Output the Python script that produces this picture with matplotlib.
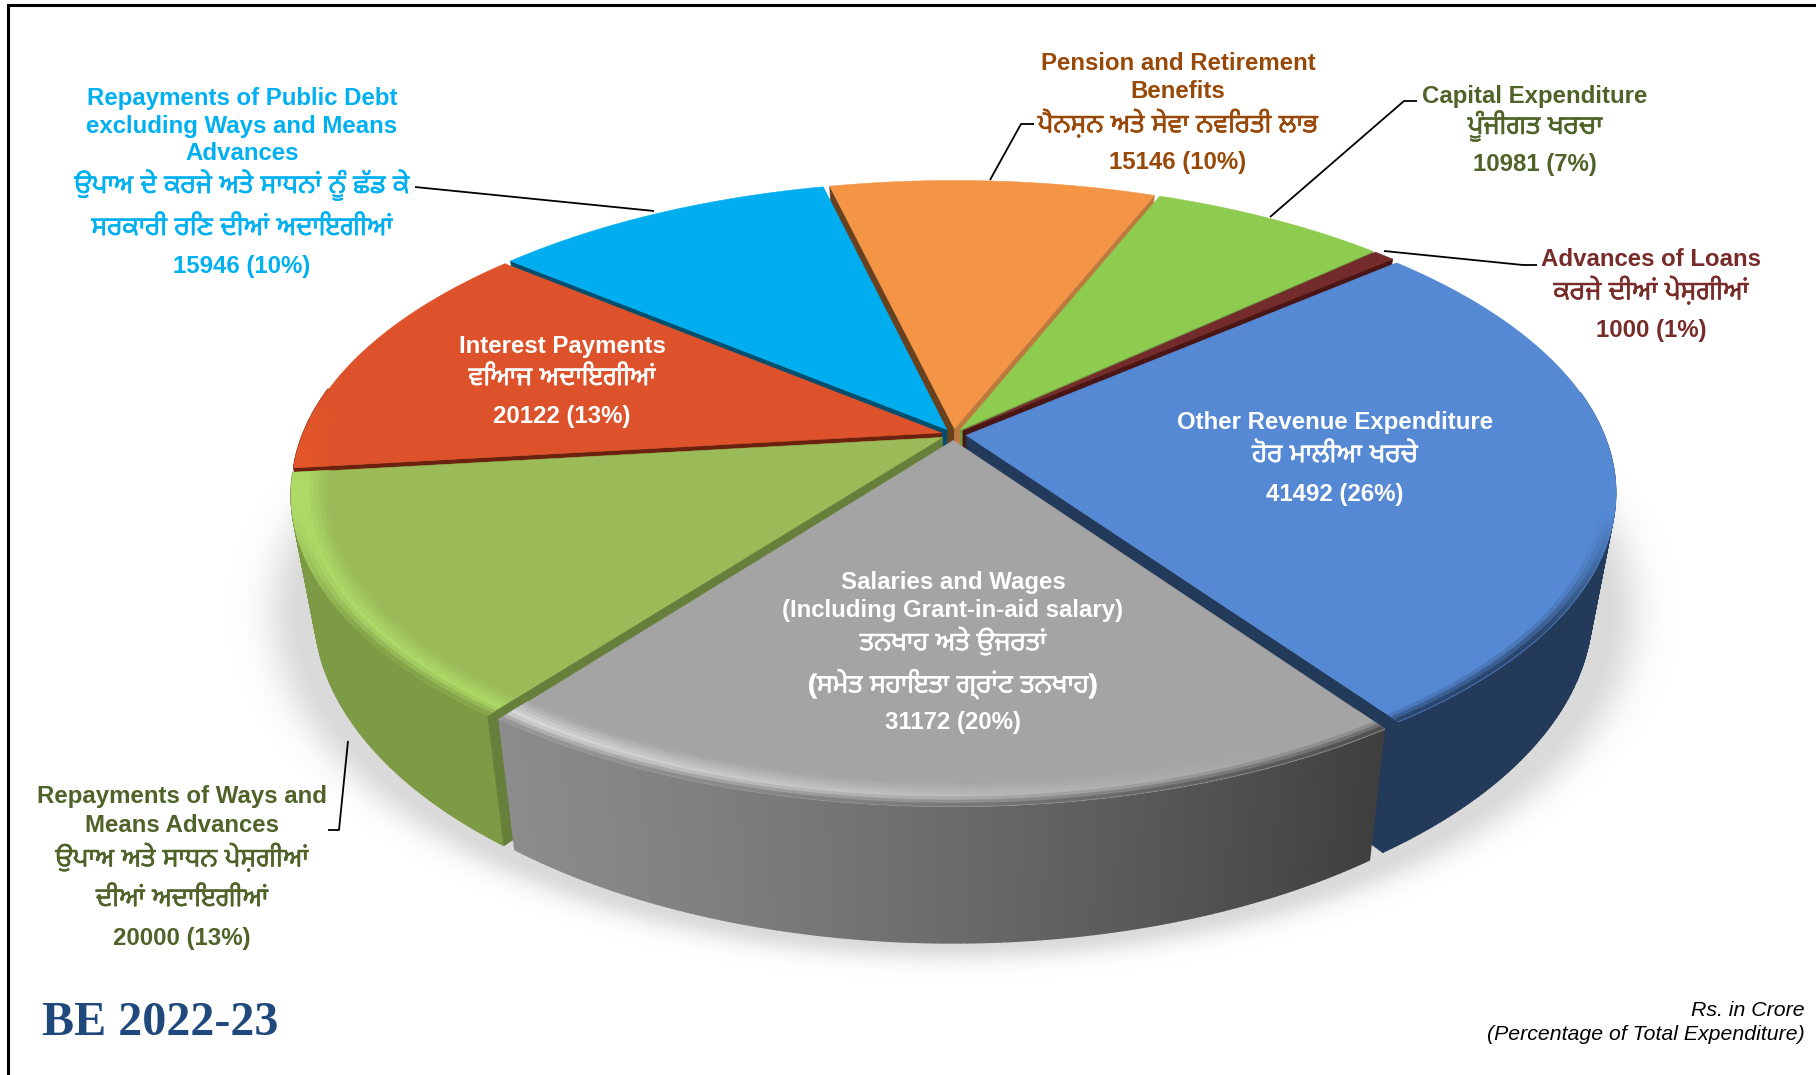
"""
BE 2022-23 expenditure split, drawn as a tilted 3D pie
Slice angles come from the values, the tilt is a simple perspective projection
"""

import logging
import numpy as np
import matplotlib
matplotlib.use('Agg')
import matplotlib.pyplot as plt
import matplotlib.patheffects as pe
from matplotlib.collections import PolyCollection

logging.getLogger('matplotlib.font_manager').setLevel(logging.ERROR)

# clockwise from the top right, same order as the source chart
names = ['Other Revenue', 'Salaries', 'Ways and Means', 'Interest',
         'Public Debt', 'Pension', 'Capital', 'Advances']
values = [41492, 31172, 20000, 20122, 15946, 15146, 10981, 1000]

top_colors = ['#5589D3', '#A4A4A4', '#9BBB59', '#DD522A', '#00AEEF', '#F39545', '#8DCC4E', '#732B2B']
bevel_colors = ['#5589D3', '#DADADA', '#AEDB68', '#E6582B', '#00AEEF', '#F39545', '#8DCC4E', '#732B2B']
wall_colors = ['#233A5A', '#6E6E6E', '#7D9A45', '#7A2B14', '#01506F', '#8A5020', '#5F8A34', '#4A1515']
cut_start_colors = ['#233A5A', '#6E6E6E', '#667F3A', '#6B2110', '#014F6F', '#6A411F', '#6F9C42', '#4A1515']
cut_end_colors = ['#233A5A', '#6E6E6E', '#667F3A', '#6B2110', '#014F6F', '#BC7A3E', '#6F9C42', '#4A1515']

# text blocks: centre x, then (line, centre y) pairs
labels = {
    'Public Debt': (242, '#00B0F0', [
        ('Repayments of Public Debt', 98), ('excluding Ways and Means', 126), ('Advances', 153),
        ('ਉਪਾਅ ਦੇ ਕਰਜੇ ਅਤੇ ਸਾਧਨਾਂ ਨੂੰ ਛੱਡ ਕੇ', 185), ('ਸਰਕਾਰੀ ਰਿਣ ਦੀਆਂ ਅਦਾਇਗੀਆਂ', 228),
        ('15946 (10%)', 266)]),
    'Pension': (1178, '#984807', [
        ('Pension and Retirement', 63), ('Benefits', 91),
        ('ਪੈਨਸ਼ਨ ਅਤੇ ਸੇਵਾ ਨਵਿਰਤੀ ਲਾਭ', 123), ('15146 (10%)', 162)]),
    'Capital': (1535, '#4F6228', [
        ('Capital Expenditure', 96), ('ਪੂੰਜੀਗਤ ਖਰਚਾ', 126), ('10981 (7%)', 165)]),
    'Advances': (1651, '#772C2A', [
        ('Advances of Loans', 259), ('ਕਰਜੇ ਦੀਆਂ ਪੇਸ਼ਗੀਆਂ', 290), ('1000 (1%)', 330)]),
    'Other Revenue': (1335, 'white', [
        ('Other Revenue Expenditure', 423), ('ਹੋਰ ਮਾਲੀਆ ਖਰਚੇ', 455), ('41492 (26%)', 494)]),
    'Salaries': (953, 'white', [
        ('Salaries and Wages', 582), ('(Including Grant-in-aid salary)', 610),
        ('ਤਨਖਾਹ ਅਤੇ ਉਜਰਤਾਂ', 641), ('(ਸਮੇਤ ਸਹਾਇਤਾ ਗ੍ਰਾਂਟ ਤਨਖਾਹ)', 684), ('31172 (20%)', 723)]),
    'Ways and Means': (182, '#4F6228', [
        ('Repayments of Ways and', 797), ('Means Advances', 825),
        ('ਉਪਾਅ ਅਤੇ ਸਾਧਨ ਪੇਸ਼ਗੀਆਂ', 857), ('ਦੀਆਂ ਅਦਾਇਗੀਆਂ', 899), ('20000 (13%)', 938)]),
    'Interest': (562, 'white', [
        ('Interest Payments', 346), ('ਵਿਆਜ ਅਦਾਇਗੀਆਂ', 378), ('20122 (13%)', 416)]),
}

leaders = [
    ([415, 654], [187, 211]),
    ([1034, 1021, 990], [124, 124, 180]),
    ([1417, 1404, 1270], [101, 101, 217]),
    ([1537, 1523, 1384], [265, 265, 251]),
    ([328, 339, 348], [830, 830, 741]),
]

# projection of the unit disc to picture pixels
CX, CY = 953, 434
SCALE_X, SCALE_Y = 638, 296
PERSP = 0.185
DEPTH = 111
BOTTOM_SHRINK = 0.965  # vertical edges converge a bit going down
EXPLODE = 0.02
START_DEG = 49.3

TEXT_FONT = ['Liberation Sans', 'Noto Sans Gurmukhi', 'Anek Gurmukhi', 'FreeSans', 'DejaVu Sans']


def project(x, y, z=0.0):
    w = 1 + PERSP * y
    shrink = 1 - (1 - BOTTOM_SHRINK) * z
    return CX + shrink * SCALE_X * x / w, CY + (-SCALE_Y * y + DEPTH * z) / w


def mix(c1, c2, t):
    c1 = np.array(matplotlib.colors.to_rgb(c1))
    c2 = np.array(matplotlib.colors.to_rgb(c2))
    return np.clip(c1 + (c2 - c1) * t, 0, 1)


fig = plt.figure(figsize=(18.16, 10.75), dpi=100)
ax = fig.add_axes([0, 0, 1, 1])
ax.axis('off')

# soft shadow under the pie
px, py = np.meshgrid(np.arange(200, 1720, 2), np.arange(300, 1075, 2))
dist = (np.sqrt(((px - 953) / 652) ** 2 + ((py - 612) / 331) ** 2) - 1) * 400
shadow = np.zeros(px.shape + (4,))
shadow[..., :3] = 0.55
shadow[..., 3] = 0.32 * np.exp(-(np.clip(dist, 0, None) / 22) ** 2)
ax.imshow(shadow, extent=(200, 1720, 1075, 300), zorder=1, aspect='auto')
ax.set_xlim(0, 1816)
ax.set_ylim(1075, 0)

vals = np.array(values, dtype=float)
edges = np.radians(START_DEG + np.concatenate([[0], np.cumsum(vals) / vals.sum() * 360]))
mids = (edges[:-1] + edges[1:]) / 2

# back slices first so the front ones paint over them
order = np.argsort(-np.cos(mids))

for i in order:
    t0, t1 = edges[i], edges[i + 1]
    ox, oy = EXPLODE * np.sin(mids[i]), EXPLODE * np.cos(mids[i])
    ts = np.linspace(t0, t1, max(4, int(np.degrees(t1 - t0) * 2)))
    rx, ry = ox + np.sin(ts), oy + np.cos(ts)

    # outer wall
    polys, cols = [], []
    for j in range(len(ts) - 1):
        if np.cos(ts[j]) > 0.15:
            continue
        a = project(rx[j], ry[j])
        b = project(rx[j + 1], ry[j + 1])
        c = project(rx[j + 1], ry[j + 1], 1)
        d = project(rx[j], ry[j], 1)
        polys.append([a, b, c, d])
        if names[i] == 'Salaries':
            # grey wall runs from mid grey on the left to near black on the right
            u = np.clip((np.sin(ts[j]) + 0.62) / 1.2, 0, 1)
            cols.append(mix('#8C8C8C', '#3E3E3E', u ** 1.3))
        else:
            cols.append(matplotlib.colors.to_rgb(wall_colors[i]))
    if polys:
        ax.add_collection(PolyCollection(polys, facecolors=cols, edgecolors=cols, linewidths=1.0, zorder=2))

    # cut faces that look toward the viewer
    for t, sign, col in ((t0, -1, cut_start_colors[i]), (t1, 1, cut_end_colors[i])):
        if -sign * np.sin(t) >= 0:
            continue
        x1, y1 = ox + np.sin(t), oy + np.cos(t)
        cut = [project(ox, oy), project(x1, y1), project(x1, y1, 1), project(ox, oy, 1)]
        ax.add_collection(PolyCollection([cut], facecolors=col, edgecolors=col, linewidths=0.5, zorder=2))

    # top face
    top = [project(ox, oy)] + [project(x, y) for x, y in zip(rx, ry)]
    ax.add_collection(PolyCollection([top], facecolors=top_colors[i], edgecolors=top_colors[i],
                                     linewidths=0.4, zorder=2))

    # rounded edge between the top face and the wall
    radii = np.linspace(0.945, 1.0, 9)
    polys, cols = [], []
    for j in range(len(ts) - 1):
        y_here = np.cos(ts[j])
        front = np.clip((0.15 - y_here) / 0.3, 0, 1)
        if front <= 0:
            continue
        # only blend into the wall colour where the wall really sits below the edge
        to_wall = np.clip((-0.25 - y_here) / 0.35, 0, 1)
        glow = np.clip((0.45 - np.sin(ts[j])) / 1.0, 0, 1) * front
        if names[i] == 'Salaries':
            u = np.clip((np.sin(ts[j]) + 0.62) / 1.2, 0, 1)
            wall = mix('#8C8C8C', '#3E3E3E', u ** 1.3)
        else:
            wall = np.array(matplotlib.colors.to_rgb(wall_colors[i]))
        light = mix(top_colors[i], bevel_colors[i], glow)
        for k in range(len(radii) - 1):
            r0, r1 = radii[k], radii[k + 1]
            u = (k + 0.5) / (len(radii) - 1)
            if u < 0.6:
                col = mix(top_colors[i], light, u / 0.6)
            else:
                col = mix(light, mix(light, wall, to_wall), (u - 0.6) / 0.4)
            polys.append([
                project(ox + r0 * np.sin(ts[j]), oy + r0 * np.cos(ts[j])),
                project(ox + r1 * np.sin(ts[j]), oy + r1 * np.cos(ts[j])),
                project(ox + r1 * np.sin(ts[j + 1]), oy + r1 * np.cos(ts[j + 1])),
                project(ox + r0 * np.sin(ts[j + 1]), oy + r0 * np.cos(ts[j + 1])),
            ])
            cols.append(col)
    if polys:
        ax.add_collection(PolyCollection(polys, facecolors=cols, edgecolors=cols, linewidths=0.3, zorder=2))

# leader lines
for xs, ys in leaders:
    ax.plot(xs, ys, color='black', lw=1.3, zorder=3, solid_capstyle='butt')

# page frame, only top and left show
ax.plot([8, 8, 1816], [1075, 5, 5], color='black', lw=2.2, zorder=3, solid_joinstyle='miter', clip_on=False)

for name in names:
    x, color, lines = labels[name]
    for line, y in lines:
        is_gurmukhi = any(0x0A00 <= ord(ch) <= 0x0A7F for ch in line)
        txt = ax.text(x, y, line, ha='center', va='center', color=color,
                      fontsize=19.0 if is_gurmukhi else 17.3,
                      fontweight='bold', family=TEXT_FONT, zorder=4)
        if is_gurmukhi:
            # the Gurmukhi face has no real bold here, thicken it a little
            txt.set_path_effects([pe.withStroke(linewidth=0.4, foreground=color)])

ax.text(42, 1023, 'BE 2022-23', ha='left', va='center', color='#1F497D', fontsize=34.6,
        fontweight='bold', family='Liberation Serif', zorder=4)
ax.text(1805, 1010, 'Rs. in Crore', ha='right', va='center', color='black', fontsize=15.3,
        style='italic', family='Liberation Sans', zorder=4)
ax.text(1805, 1035, '(Percentage of Total Expenditure)', ha='right', va='center', color='black',
        fontsize=15.3, style='italic', family='Liberation Sans', zorder=4)

fig.savefig('out.png', dpi=100)
